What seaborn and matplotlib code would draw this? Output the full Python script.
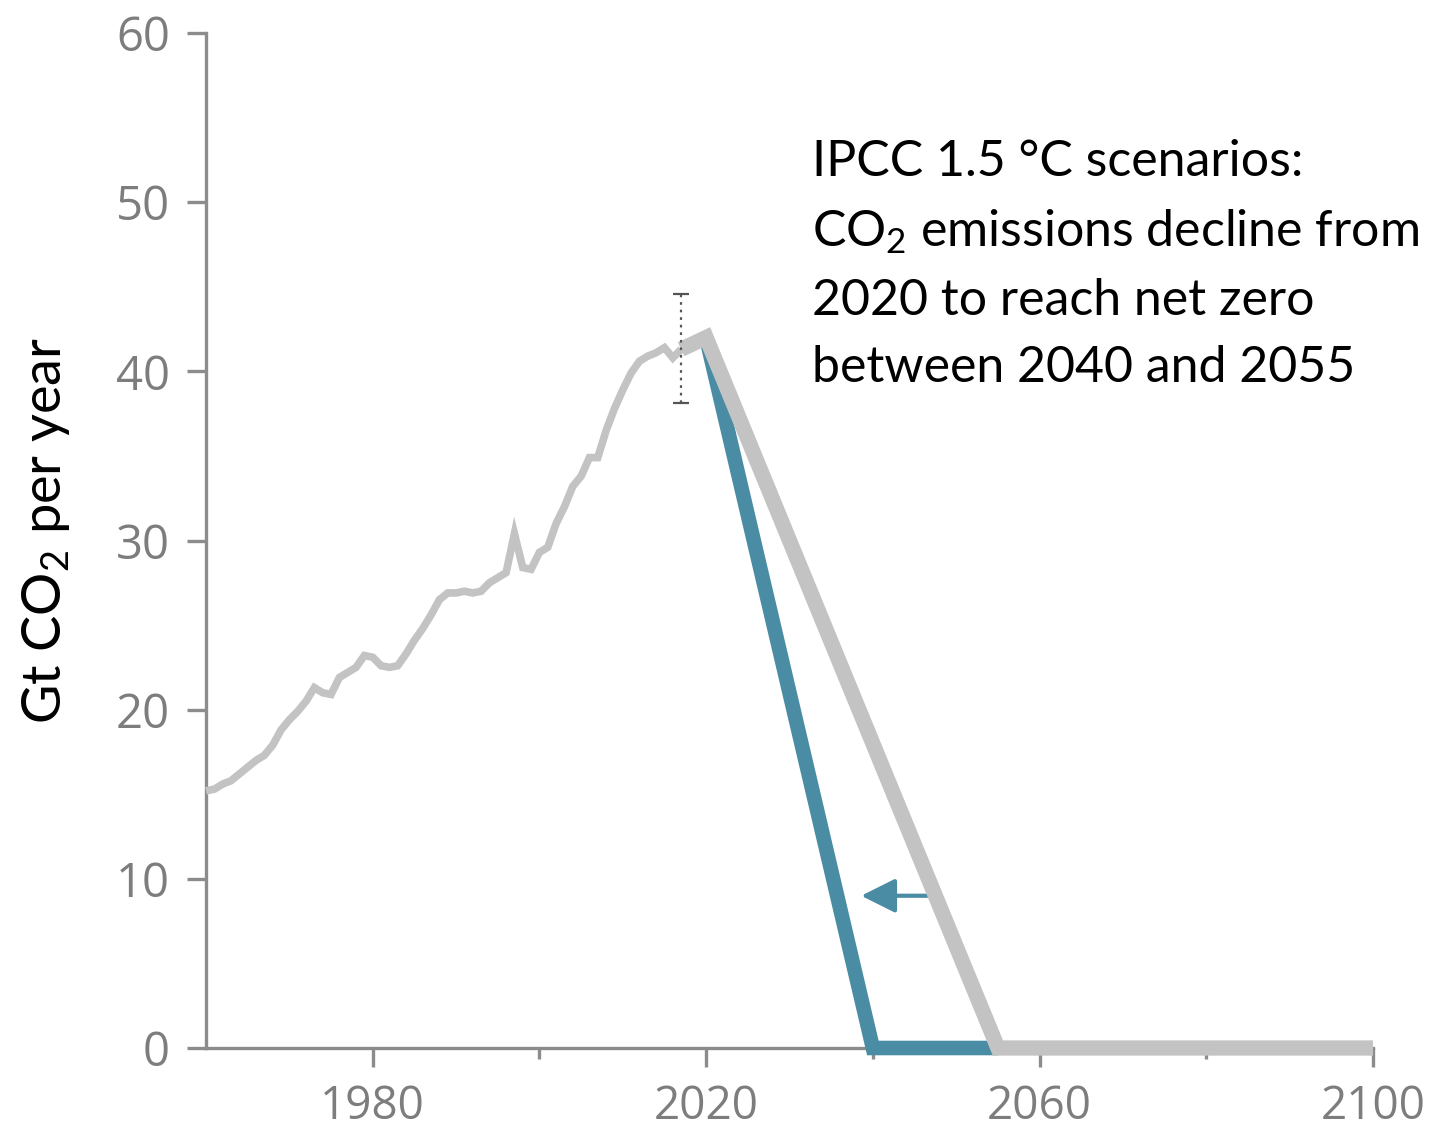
import numpy as np
import pandas as pd
import matplotlib
matplotlib.use("Agg")
import matplotlib.pyplot as plt
import seaborn as sns

# Historical global CO2 emissions (Gt CO2 per year)
hist_years = list(range(1960, 2018))
hist_values = [
    15.2, 15.3, 15.6, 15.8, 16.2, 16.6, 17.0, 17.3, 17.9, 18.8,
    19.4, 19.9, 20.5, 21.3, 21.0, 20.9, 21.9, 22.2, 22.5, 23.2,
    23.1, 22.6, 22.5, 22.6, 23.3, 24.1, 24.8, 25.6, 26.5, 26.9,
    26.9, 27.0, 26.9, 27.0, 27.5, 27.8, 28.1, 30.4, 28.4, 28.3,
    29.3, 29.6, 31.0, 32.0, 33.2, 33.8, 34.9, 34.9, 36.5, 37.8,
    38.9, 39.9, 40.6, 40.9, 41.1, 41.4, 40.8, 41.3,
]

# Scenario pathways
slow_years = [2017, 2020, 2055, 2100]
slow_values = [41.3, 42.0, 0.0, 0.0]
fast_years = [2020, 2040, 2055]
fast_values = [42.0, 0.0, 0.0]

# Uncertainty range around the latest estimate
err_year = 2017
err_low, err_high = 38.1, 44.6

# Arrow showing the earlier net-zero date
arrow_from, arrow_to, arrow_level = 2046.6, 2038.6, 9.0

x_ticks = [1980, 2000, 2020, 2040, 2060, 2080, 2100]
x_labels = ["1980", "", "2020", "", "2060", "", "2100"]
y_ticks = [0, 10, 20, 30, 40, 50, 60]

sns.set_theme(style="white")
plt.rcParams["font.family"] = ["Open Sans", "DejaVu Sans"]
plt.rcParams["mathtext.fontset"] = "custom"
plt.rcParams["mathtext.rm"] = "Lato"

GRAY_LINE = "#c3c3c3"
TEAL = "#4a8ca3"
AXIS = "#8c8c8c"
TICK_TXT = "#7d7d7d"

fig = plt.figure(figsize=(14.37, 11.35), dpi=100)
ax = fig.add_axes([206 / 1437, 1 - 1048 / 1135, (1373 - 206) / 1437, (1048 - 33) / 1135])

hist_df = pd.DataFrame({"year": hist_years, "value": hist_values})
slow_df = pd.DataFrame({"year": slow_years, "value": slow_values})
fast_df = pd.DataFrame({"year": fast_years, "value": fast_values})

sns.lineplot(data=hist_df, x="year", y="value", ax=ax, color=GRAY_LINE,
             linewidth=5.5, sort=False, zorder=3)
sns.lineplot(data=fast_df, x="year", y="value", ax=ax, color=TEAL,
             linewidth=10.5, sort=False, zorder=4)
sns.lineplot(data=slow_df, x="year", y="value", ax=ax, color=GRAY_LINE,
             linewidth=11, sort=False, zorder=5)
for ln in ax.get_lines():
    ln.set_clip_on(False)
    ln.set_solid_capstyle("butt")
    ln.set_solid_joinstyle("miter")

# Dotted uncertainty bar with caps
mid = (err_low + err_high) / 2
half = (err_high - err_low) / 2
eb = ax.errorbar([err_year], [mid], yerr=[[half], [half]], fmt="none",
                 ecolor="#555555", elinewidth=1.6, capsize=6, capthick=1.6,
                 zorder=6)
eb[2][0].set_linestyle((0, (1.2, 2.2)))

ax.annotate("", xy=(arrow_to, arrow_level), xytext=(arrow_from, arrow_level),
            arrowprops=dict(arrowstyle="-|>,head_length=0.7,head_width=0.35",
                            color=TEAL, lw=3, mutation_scale=30,
                            shrinkA=0, shrinkB=0))

ax.set_xlim(1960, 2100)
ax.set_ylim(0, 60)
ax.set_xticks(x_ticks)
ax.set_xticklabels(x_labels)
ax.set_yticks(y_ticks)
ax.set_xlabel("")
ax.set_ylabel("")

for side in ("top", "right"):
    ax.spines[side].set_visible(False)
for side in ("left", "bottom"):
    ax.spines[side].set_color(AXIS)
    ax.spines[side].set_linewidth(2.4)

ax.tick_params(axis="both", which="major", direction="out", length=14, width=2.4,
               color=AXIS, labelcolor=TICK_TXT, labelsize=34, left=True, bottom=True)
ax.tick_params(axis="x", pad=12, labelsize=33)
ax.tick_params(axis="y", pad=12)
# shorter marks at the unlabelled decades
for tick, lab in zip(ax.xaxis.get_major_ticks(), x_labels):
    if lab == "":
        tick.tick1line.set_markersize(8)
        tick.tick1line.set_color("#a8a8a8")

ax.set_ylabel("Gt CO$\\mathregular{_2}$ per year", fontsize=39, color="black",
              family=["Lato", "DejaVu Sans"])
ax.yaxis.set_label_coords(-0.115, 0.51)

note = ("IPCC 1.5 \u00b0C scenarios:\n"
        "CO$\\mathregular{_2}$ emissions decline from\n"
        "2020 to reach net zero\n"
        "between 2040 and 2055")
fig.text(812 / 1437, 1 - 139 / 1135, note, fontsize=36, color="black",
         family=["Lato", "DejaVu Sans"], va="top", ha="left", linespacing=1.58)

fig.savefig("out.png", dpi=100, facecolor="white")
